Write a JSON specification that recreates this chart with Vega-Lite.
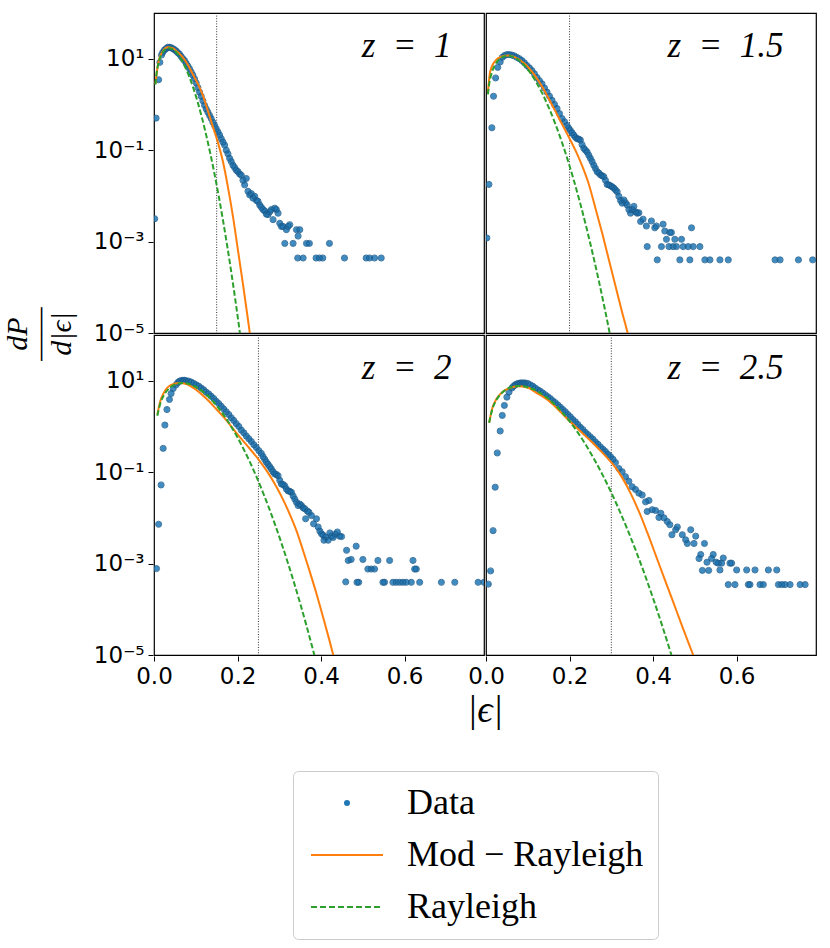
{
"$schema": "https://vega.github.io/schema/vega-lite/v6.json",
"padding": {"left": 3, "top": 12, "right": 10, "bottom": 8},
"datasets": {
"panels": [{"p":"1","r":"a","c":"a"},{"p":"1.5","r":"a","c":"b"},{"p":"2","r":"b","c":"a"},{"p":"2.5","r":"b","c":"b"}]
},
"data": {"values": [
{"p":"1","s":"L","t":"z\u2002=\u20021"},{"p":"1.5","s":"L","t":"z\u2002=\u20021.5"},{"p":"2","s":"L","t":"z\u2002=\u20022"},{"p":"2.5","s":"L","t":"z\u2002=\u20022.5"},
{"p":"1","s":"V","x":0.15},{"p":"1.5","s":"V","x":0.2},{"p":"2","s":"V","x":0.25},{"p":"2.5","s":"V","x":0.3},

{"p":"1","s":"D","x":0.0016,"y":0.00316},{"p":"1","s":"D","x":0.005,"y":0.501},{"p":"1","s":"D","x":0.011,"y":3.47},{"p":"1","s":"D","x":0.014,"y":8.32},{"p":"1","s":"D","x":0.018,"y":12.0},{"p":"1","s":"D","x":0.021,"y":13.8},{"p":"1","s":"D","x":0.025,"y":15.5},{"p":"1","s":"D","x":0.029,"y":16.6},{"p":"1","s":"D","x":0.033,"y":17.8},{"p":"1","s":"D","x":0.037,"y":17.8},{"p":"1","s":"D","x":0.041,"y":17.4},{"p":"1","s":"D","x":0.045,"y":16.6},{"p":"1","s":"D","x":0.049,"y":15.8},{"p":"1","s":"D","x":0.053,"y":14.8},{"p":"1","s":"D","x":0.057,"y":13.5},{"p":"1","s":"D","x":0.061,"y":12.6},{"p":"1","s":"D","x":0.065,"y":11.2},{"p":"1","s":"D","x":0.069,"y":10.0},{"p":"1","s":"D","x":0.073,"y":9.12},{"p":"1","s":"D","x":0.077,"y":7.94},{"p":"1","s":"D","x":0.081,"y":6.92},{"p":"1","s":"D","x":0.085,"y":6.03},{"p":"1","s":"D","x":0.089,"y":5.13},{"p":"1","s":"D","x":0.093,"y":4.37},{"p":"1","s":"D","x":0.097,"y":3.63},{"p":"1","s":"D","x":0.101,"y":2.95},{"p":"1","s":"D","x":0.105,"y":2.34},{"p":"1","s":"D","x":0.109,"y":1.86},{"p":"1","s":"D","x":0.113,"y":1.51},{"p":"1","s":"D","x":0.117,"y":1.20},{"p":"1","s":"D","x":0.121,"y":0.955},{"p":"1","s":"D","x":0.125,"y":0.794},{"p":"1","s":"D","x":0.129,"y":0.676},{"p":"1","s":"D","x":0.133,"y":0.575},{"p":"1","s":"D","x":0.137,"y":0.490},{"p":"1","s":"D","x":0.141,"y":0.407},{"p":"1","s":"D","x":0.145,"y":0.347},{"p":"1","s":"D","x":0.149,"y":0.295},{"p":"1","s":"D","x":0.153,"y":0.251},{"p":"1","s":"D","x":0.157,"y":0.214},{"p":"1","s":"D","x":0.161,"y":0.178},{"p":"1","s":"D","x":0.165,"y":0.151},{"p":"1","s":"D","x":0.169,"y":0.129},{"p":"1","s":"D","x":0.173,"y":0.100},{"p":"1","s":"D","x":0.177,"y":0.0832},{"p":"1","s":"D","x":0.181,"y":0.0661},{"p":"1","s":"D","x":0.185,"y":0.0562},{"p":"1","s":"D","x":0.189,"y":0.0468},{"p":"1","s":"D","x":0.193,"y":0.0417},{"p":"1","s":"D","x":0.197,"y":0.0363},{"p":"1","s":"D","x":0.201,"y":0.0339},{"p":"1","s":"D","x":0.205,"y":0.0302},{"p":"1","s":"D","x":0.209,"y":0.0282},{"p":"1","s":"D","x":0.213,"y":0.0219},{"p":"1","s":"D","x":0.217,"y":0.0174},{"p":"1","s":"D","x":0.221,"y":0.0240},{"p":"1","s":"D","x":0.225,"y":0.0126},{"p":"1","s":"D","x":0.229,"y":0.0105},{"p":"1","s":"D","x":0.233,"y":0.0112},{"p":"1","s":"D","x":0.237,"y":0.00891},{"p":"1","s":"D","x":0.241,"y":0.00977},{"p":"1","s":"D","x":0.245,"y":0.00794},{"p":"1","s":"D","x":0.249,"y":0.00759},{"p":"1","s":"D","x":0.253,"y":0.00631},{"p":"1","s":"D","x":0.257,"y":0.00562},{"p":"1","s":"D","x":0.261,"y":0.00501},{"p":"1","s":"D","x":0.265,"y":0.00468},{"p":"1","s":"D","x":0.269,"y":0.00398},{"p":"1","s":"D","x":0.273,"y":0.00389},{"p":"1","s":"D","x":0.277,"y":0.00447},{"p":"1","s":"D","x":0.281,"y":0.00501},{"p":"1","s":"D","x":0.285,"y":0.00302},{"p":"1","s":"D","x":0.289,"y":0.00537},{"p":"1","s":"D","x":0.293,"y":0.00501},{"p":"1","s":"D","x":0.297,"y":0.00417},{"p":"1","s":"D","x":0.301,"y":0.00251},{"p":"1","s":"D","x":0.305,"y":0.00214},{"p":"1","s":"D","x":0.309,"y":0.00214},{"p":"1","s":"D","x":0.313,"y":0.000912},{"p":"1","s":"D","x":0.317,"y":0.00182},{"p":"1","s":"D","x":0.321,"y":0.00214},{"p":"1","s":"D","x":0.325,"y":0.00234},{"p":"1","s":"D","x":0.333,"y":0.000912},{"p":"1","s":"D","x":0.341,"y":0.00182},{"p":"1","s":"D","x":0.344,"y":0.000437},{"p":"1","s":"D","x":0.345,"y":0.00132},{"p":"1","s":"D","x":0.349,"y":0.00182},{"p":"1","s":"D","x":0.357,"y":0.000437},{"p":"1","s":"D","x":0.365,"y":0.000912},{"p":"1","s":"D","x":0.372,"y":0.000912},{"p":"1","s":"D","x":0.388,"y":0.000437},{"p":"1","s":"D","x":0.396,"y":0.000437},{"p":"1","s":"D","x":0.404,"y":0.000437},{"p":"1","s":"D","x":0.42,"y":0.000912},{"p":"1","s":"D","x":0.456,"y":0.000437},{"p":"1","s":"D","x":0.508,"y":0.000437},{"p":"1","s":"D","x":0.516,"y":0.000437},{"p":"1","s":"D","x":0.528,"y":0.000437},{"p":"1","s":"D","x":0.544,"y":0.000437},

{"p":"1.5","s":"D","x":0.002,"y":0.0012},{"p":"1.5","s":"D","x":0.007,"y":0.0178},{"p":"1.5","s":"D","x":0.014,"y":0.309},{"p":"1.5","s":"D","x":0.018,"y":1.51},{"p":"1.5","s":"D","x":0.023,"y":3.80},{"p":"1.5","s":"D","x":0.028,"y":6.46},{"p":"1.5","s":"D","x":0.034,"y":8.51},{"p":"1.5","s":"D","x":0.039,"y":10.7},{"p":"1.5","s":"D","x":0.044,"y":11.7},{"p":"1.5","s":"D","x":0.050,"y":12.3},{"p":"1.5","s":"D","x":0.056,"y":12.3},{"p":"1.5","s":"D","x":0.062,"y":12.0},{"p":"1.5","s":"D","x":0.068,"y":11.5},{"p":"1.5","s":"D","x":0.074,"y":10.7},{"p":"1.5","s":"D","x":0.080,"y":10.0},{"p":"1.5","s":"D","x":0.086,"y":9.12},{"p":"1.5","s":"D","x":0.092,"y":8.13},{"p":"1.5","s":"D","x":0.098,"y":7.08},{"p":"1.5","s":"D","x":0.104,"y":6.31},{"p":"1.5","s":"D","x":0.110,"y":5.50},{"p":"1.5","s":"D","x":0.116,"y":4.68},{"p":"1.5","s":"D","x":0.122,"y":3.89},{"p":"1.5","s":"D","x":0.128,"y":3.31},{"p":"1.5","s":"D","x":0.134,"y":2.82},{"p":"1.5","s":"D","x":0.140,"y":2.29},{"p":"1.5","s":"D","x":0.146,"y":1.86},{"p":"1.5","s":"D","x":0.152,"y":1.51},{"p":"1.5","s":"D","x":0.158,"y":1.23},{"p":"1.5","s":"D","x":0.164,"y":1.00},{"p":"1.5","s":"D","x":0.170,"y":0.813},{"p":"1.5","s":"D","x":0.176,"y":0.631},{"p":"1.5","s":"D","x":0.182,"y":0.490},{"p":"1.5","s":"D","x":0.188,"y":0.417},{"p":"1.5","s":"D","x":0.194,"y":0.347},{"p":"1.5","s":"D","x":0.198,"y":0.302},{"p":"1.5","s":"D","x":0.202,"y":0.269},{"p":"1.5","s":"D","x":0.206,"y":0.240},{"p":"1.5","s":"D","x":0.210,"y":0.214},{"p":"1.5","s":"D","x":0.214,"y":0.191},{"p":"1.5","s":"D","x":0.218,"y":0.178},{"p":"1.5","s":"D","x":0.222,"y":0.174},{"p":"1.5","s":"D","x":0.226,"y":0.166},{"p":"1.5","s":"D","x":0.230,"y":0.132},{"p":"1.5","s":"D","x":0.234,"y":0.110},{"p":"1.5","s":"D","x":0.238,"y":0.100},{"p":"1.5","s":"D","x":0.242,"y":0.0912},{"p":"1.5","s":"D","x":0.246,"y":0.0776},{"p":"1.5","s":"D","x":0.250,"y":0.0661},{"p":"1.5","s":"D","x":0.254,"y":0.0562},{"p":"1.5","s":"D","x":0.258,"y":0.0468},{"p":"1.5","s":"D","x":0.262,"y":0.0398},{"p":"1.5","s":"D","x":0.266,"y":0.0339},{"p":"1.5","s":"D","x":0.270,"y":0.0316},{"p":"1.5","s":"D","x":0.274,"y":0.0288},{"p":"1.5","s":"D","x":0.278,"y":0.0275},{"p":"1.5","s":"D","x":0.282,"y":0.0263},{"p":"1.5","s":"D","x":0.286,"y":0.0219},{"p":"1.5","s":"D","x":0.290,"y":0.0178},{"p":"1.5","s":"D","x":0.294,"y":0.0174},{"p":"1.5","s":"D","x":0.298,"y":0.0166},{"p":"1.5","s":"D","x":0.302,"y":0.0158},{"p":"1.5","s":"D","x":0.306,"y":0.0148},{"p":"1.5","s":"D","x":0.310,"y":0.0135},{"p":"1.5","s":"D","x":0.314,"y":0.0123},{"p":"1.5","s":"D","x":0.318,"y":0.00977},{"p":"1.5","s":"D","x":0.322,"y":0.00794},{"p":"1.5","s":"D","x":0.326,"y":0.00692},{"p":"1.5","s":"D","x":0.330,"y":0.00813},{"p":"1.5","s":"D","x":0.334,"y":0.00708},{"p":"1.5","s":"D","x":0.338,"y":0.00631},{"p":"1.5","s":"D","x":0.342,"y":0.00501},{"p":"1.5","s":"D","x":0.346,"y":0.00417},{"p":"1.5","s":"D","x":0.350,"y":0.00501},{"p":"1.5","s":"D","x":0.354,"y":0.00589},{"p":"1.5","s":"D","x":0.358,"y":0.00447},{"p":"1.5","s":"D","x":0.362,"y":0.00417},{"p":"1.5","s":"D","x":0.366,"y":0.00427},{"p":"1.5","s":"D","x":0.370,"y":0.00275},{"p":"1.5","s":"D","x":0.376,"y":0.00309},{"p":"1.5","s":"D","x":0.384,"y":0.00219},{"p":"1.5","s":"D","x":0.396,"y":0.00282},{"p":"1.5","s":"D","x":0.404,"y":0.00200},{"p":"1.5","s":"D","x":0.408,"y":0.00219},{"p":"1.5","s":"D","x":0.424,"y":0.00240},{"p":"1.5","s":"D","x":0.428,"y":0.00170},{"p":"1.5","s":"D","x":0.432,"y":0.00112},{"p":"1.5","s":"D","x":0.440,"y":0.00158},{"p":"1.5","s":"D","x":0.444,"y":0.00158},{"p":"1.5","s":"D","x":0.452,"y":0.00112},{"p":"1.5","s":"D","x":0.468,"y":0.00112},{"p":"1.5","s":"D","x":0.492,"y":0.00200},{"p":"1.5","s":"D","x":0.386,"y":0.000776},{"p":"1.5","s":"D","x":0.420,"y":0.000776},{"p":"1.5","s":"D","x":0.438,"y":0.000776},{"p":"1.5","s":"D","x":0.448,"y":0.000776},{"p":"1.5","s":"D","x":0.456,"y":0.000776},{"p":"1.5","s":"D","x":0.472,"y":0.000776},{"p":"1.5","s":"D","x":0.484,"y":0.000776},{"p":"1.5","s":"D","x":0.496,"y":0.000776},{"p":"1.5","s":"D","x":0.512,"y":0.000776},{"p":"1.5","s":"D","x":0.410,"y":0.000398},{"p":"1.5","s":"D","x":0.464,"y":0.000398},{"p":"1.5","s":"D","x":0.488,"y":0.000398},{"p":"1.5","s":"D","x":0.524,"y":0.000398},{"p":"1.5","s":"D","x":0.536,"y":0.000398},{"p":"1.5","s":"D","x":0.560,"y":0.000398},{"p":"1.5","s":"D","x":0.580,"y":0.000398},{"p":"1.5","s":"D","x":0.692,"y":0.000398},{"p":"1.5","s":"D","x":0.704,"y":0.000398},{"p":"1.5","s":"D","x":0.748,"y":0.000398},{"p":"1.5","s":"D","x":0.782,"y":0.000398},

{"p":"2","s":"D","x":0.006,"y":0.000776},{"p":"2","s":"D","x":0.011,"y":0.00724},{"p":"2","s":"D","x":0.017,"y":0.0525},{"p":"2","s":"D","x":0.022,"y":0.331},{"p":"2","s":"D","x":0.026,"y":1.07},{"p":"2","s":"D","x":0.031,"y":2.34},{"p":"2","s":"D","x":0.037,"y":3.89},{"p":"2","s":"D","x":0.041,"y":5.25},{"p":"2","s":"D","x":0.046,"y":6.76},{"p":"2","s":"D","x":0.053,"y":8.13},{"p":"2","s":"D","x":0.057,"y":9.12},{"p":"2","s":"D","x":0.061,"y":9.77},{"p":"2","s":"D","x":0.065,"y":10.0},{"p":"2","s":"D","x":0.069,"y":10.2},{"p":"2","s":"D","x":0.073,"y":10.2},{"p":"2","s":"D","x":0.077,"y":10.0},{"p":"2","s":"D","x":0.083,"y":9.77},{"p":"2","s":"D","x":0.089,"y":9.33},{"p":"2","s":"D","x":0.095,"y":8.71},{"p":"2","s":"D","x":0.101,"y":8.13},{"p":"2","s":"D","x":0.107,"y":7.59},{"p":"2","s":"D","x":0.113,"y":6.92},{"p":"2","s":"D","x":0.119,"y":6.31},{"p":"2","s":"D","x":0.125,"y":5.62},{"p":"2","s":"D","x":0.131,"y":5.13},{"p":"2","s":"D","x":0.137,"y":4.57},{"p":"2","s":"D","x":0.143,"y":4.07},{"p":"2","s":"D","x":0.149,"y":3.55},{"p":"2","s":"D","x":0.155,"y":3.16},{"p":"2","s":"D","x":0.161,"y":2.75},{"p":"2","s":"D","x":0.167,"y":2.40},{"p":"2","s":"D","x":0.173,"y":2.09},{"p":"2","s":"D","x":0.179,"y":1.82},{"p":"2","s":"D","x":0.185,"y":1.55},{"p":"2","s":"D","x":0.191,"y":1.35},{"p":"2","s":"D","x":0.197,"y":1.15},{"p":"2","s":"D","x":0.203,"y":1.00},{"p":"2","s":"D","x":0.209,"y":0.832},{"p":"2","s":"D","x":0.215,"y":0.724},{"p":"2","s":"D","x":0.221,"y":0.617},{"p":"2","s":"D","x":0.227,"y":0.537},{"p":"2","s":"D","x":0.233,"y":0.468},{"p":"2","s":"D","x":0.239,"y":0.398},{"p":"2","s":"D","x":0.245,"y":0.347},{"p":"2","s":"D","x":0.251,"y":0.295},{"p":"2","s":"D","x":0.257,"y":0.257},{"p":"2","s":"D","x":0.261,"y":0.219},{"p":"2","s":"D","x":0.265,"y":0.191},{"p":"2","s":"D","x":0.269,"y":0.166},{"p":"2","s":"D","x":0.273,"y":0.148},{"p":"2","s":"D","x":0.277,"y":0.132},{"p":"2","s":"D","x":0.281,"y":0.117},{"p":"2","s":"D","x":0.285,"y":0.102},{"p":"2","s":"D","x":0.289,"y":0.0912},{"p":"2","s":"D","x":0.293,"y":0.0891},{"p":"2","s":"D","x":0.297,"y":0.0832},{"p":"2","s":"D","x":0.301,"y":0.0661},{"p":"2","s":"D","x":0.305,"y":0.0550},{"p":"2","s":"D","x":0.309,"y":0.0537},{"p":"2","s":"D","x":0.313,"y":0.0501},{"p":"2","s":"D","x":0.317,"y":0.0427},{"p":"2","s":"D","x":0.321,"y":0.0389},{"p":"2","s":"D","x":0.325,"y":0.0380},{"p":"2","s":"D","x":0.329,"y":0.0363},{"p":"2","s":"D","x":0.333,"y":0.0302},{"p":"2","s":"D","x":0.337,"y":0.0257},{"p":"2","s":"D","x":0.341,"y":0.0219},{"p":"2","s":"D","x":0.345,"y":0.0186},{"p":"2","s":"D","x":0.349,"y":0.0200},{"p":"2","s":"D","x":0.353,"y":0.0186},{"p":"2","s":"D","x":0.357,"y":0.0166},{"p":"2","s":"D","x":0.361,"y":0.0158},{"p":"2","s":"D","x":0.363,"y":0.00955},{"p":"2","s":"D","x":0.367,"y":0.0141},{"p":"2","s":"D","x":0.371,"y":0.0132},{"p":"2","s":"D","x":0.377,"y":0.0112},{"p":"2","s":"D","x":0.382,"y":0.00741},{"p":"2","s":"D","x":0.389,"y":0.00955},{"p":"2","s":"D","x":0.393,"y":0.00631},{"p":"2","s":"D","x":0.397,"y":0.00513},{"p":"2","s":"D","x":0.401,"y":0.00447},{"p":"2","s":"D","x":0.405,"y":0.00417},{"p":"2","s":"D","x":0.407,"y":0.00324},{"p":"2","s":"D","x":0.411,"y":0.00380},{"p":"2","s":"D","x":0.417,"y":0.00324},{"p":"2","s":"D","x":0.421,"y":0.00468},{"p":"2","s":"D","x":0.425,"y":0.00398},{"p":"2","s":"D","x":0.429,"y":0.00372},{"p":"2","s":"D","x":0.434,"y":0.00437},{"p":"2","s":"D","x":0.439,"y":0.00490},{"p":"2","s":"D","x":0.444,"y":0.00398},{"p":"2","s":"D","x":0.449,"y":0.00389},{"p":"2","s":"D","x":0.461,"y":0.00195},{"p":"2","s":"D","x":0.465,"y":0.00117},{"p":"2","s":"D","x":0.459,"y":0.000398},{"p":"2","s":"D","x":0.472,"y":0.00123},{"p":"2","s":"D","x":0.484,"y":0.00240},{"p":"2","s":"D","x":0.500,"y":0.00123},{"p":"2","s":"D","x":0.512,"y":0.000759},{"p":"2","s":"D","x":0.520,"y":0.000759},{"p":"2","s":"D","x":0.528,"y":0.000759},{"p":"2","s":"D","x":0.536,"y":0.00117},{"p":"2","s":"D","x":0.564,"y":0.00117},{"p":"2","s":"D","x":0.620,"y":0.00117},{"p":"2","s":"D","x":0.624,"y":0.000759},{"p":"2","s":"D","x":0.628,"y":0.000759},{"p":"2","s":"D","x":0.486,"y":0.000389},{"p":"2","s":"D","x":0.490,"y":0.000389},{"p":"2","s":"D","x":0.548,"y":0.000389},{"p":"2","s":"D","x":0.552,"y":0.000389},{"p":"2","s":"D","x":0.572,"y":0.000389},{"p":"2","s":"D","x":0.580,"y":0.000389},{"p":"2","s":"D","x":0.588,"y":0.000389},{"p":"2","s":"D","x":0.596,"y":0.000389},{"p":"2","s":"D","x":0.604,"y":0.000389},{"p":"2","s":"D","x":0.616,"y":0.000389},{"p":"2","s":"D","x":0.636,"y":0.000389},{"p":"2","s":"D","x":0.688,"y":0.000389},{"p":"2","s":"D","x":0.720,"y":0.000389},{"p":"2","s":"D","x":0.776,"y":0.000389},{"p":"2","s":"D","x":0.79,"y":0.000389},

{"p":"2.5","s":"D","x":0.0056,"y":0.000355},{"p":"2.5","s":"D","x":0.011,"y":0.000692},{"p":"2.5","s":"D","x":0.017,"y":0.00525},{"p":"2.5","s":"D","x":0.022,"y":0.0468},{"p":"2.5","s":"D","x":0.027,"y":0.263},{"p":"2.5","s":"D","x":0.034,"y":0.794},{"p":"2.5","s":"D","x":0.039,"y":1.74},{"p":"2.5","s":"D","x":0.044,"y":2.88},{"p":"2.5","s":"D","x":0.050,"y":4.37},{"p":"2.5","s":"D","x":0.055,"y":5.62},{"p":"2.5","s":"D","x":0.062,"y":6.92},{"p":"2.5","s":"D","x":0.066,"y":7.59},{"p":"2.5","s":"D","x":0.070,"y":8.13},{"p":"2.5","s":"D","x":0.074,"y":8.51},{"p":"2.5","s":"D","x":0.078,"y":8.71},{"p":"2.5","s":"D","x":0.082,"y":8.91},{"p":"2.5","s":"D","x":0.086,"y":8.91},{"p":"2.5","s":"D","x":0.090,"y":8.91},{"p":"2.5","s":"D","x":0.094,"y":8.91},{"p":"2.5","s":"D","x":0.100,"y":8.71},{"p":"2.5","s":"D","x":0.106,"y":8.13},{"p":"2.5","s":"D","x":0.112,"y":7.59},{"p":"2.5","s":"D","x":0.118,"y":6.92},{"p":"2.5","s":"D","x":0.124,"y":6.31},{"p":"2.5","s":"D","x":0.130,"y":5.89},{"p":"2.5","s":"D","x":0.136,"y":5.37},{"p":"2.5","s":"D","x":0.142,"y":4.90},{"p":"2.5","s":"D","x":0.148,"y":4.47},{"p":"2.5","s":"D","x":0.154,"y":4.07},{"p":"2.5","s":"D","x":0.160,"y":3.63},{"p":"2.5","s":"D","x":0.166,"y":3.31},{"p":"2.5","s":"D","x":0.172,"y":2.95},{"p":"2.5","s":"D","x":0.178,"y":2.63},{"p":"2.5","s":"D","x":0.184,"y":2.34},{"p":"2.5","s":"D","x":0.190,"y":2.09},{"p":"2.5","s":"D","x":0.196,"y":1.82},{"p":"2.5","s":"D","x":0.202,"y":1.62},{"p":"2.5","s":"D","x":0.208,"y":1.41},{"p":"2.5","s":"D","x":0.214,"y":1.26},{"p":"2.5","s":"D","x":0.220,"y":1.10},{"p":"2.5","s":"D","x":0.226,"y":0.955},{"p":"2.5","s":"D","x":0.232,"y":0.851},{"p":"2.5","s":"D","x":0.238,"y":0.741},{"p":"2.5","s":"D","x":0.244,"y":0.661},{"p":"2.5","s":"D","x":0.250,"y":0.589},{"p":"2.5","s":"D","x":0.256,"y":0.525},{"p":"2.5","s":"D","x":0.262,"y":0.457},{"p":"2.5","s":"D","x":0.268,"y":0.407},{"p":"2.5","s":"D","x":0.274,"y":0.355},{"p":"2.5","s":"D","x":0.280,"y":0.316},{"p":"2.5","s":"D","x":0.286,"y":0.282},{"p":"2.5","s":"D","x":0.292,"y":0.245},{"p":"2.5","s":"D","x":0.298,"y":0.219},{"p":"2.5","s":"D","x":0.304,"y":0.191},{"p":"2.5","s":"D","x":0.310,"y":0.162},{"p":"2.5","s":"D","x":0.318,"y":0.120},{"p":"2.5","s":"D","x":0.326,"y":0.102},{"p":"2.5","s":"D","x":0.334,"y":0.0794},{"p":"2.5","s":"D","x":0.342,"y":0.0631},{"p":"2.5","s":"D","x":0.350,"y":0.0479},{"p":"2.5","s":"D","x":0.358,"y":0.0417},{"p":"2.5","s":"D","x":0.366,"y":0.0347},{"p":"2.5","s":"D","x":0.374,"y":0.0316},{"p":"2.5","s":"D","x":0.382,"y":0.0224},{"p":"2.5","s":"D","x":0.386,"y":0.0138},{"p":"2.5","s":"D","x":0.390,"y":0.0240},{"p":"2.5","s":"D","x":0.398,"y":0.0151},{"p":"2.5","s":"D","x":0.406,"y":0.0145},{"p":"2.5","s":"D","x":0.414,"y":0.0102},{"p":"2.5","s":"D","x":0.4185,"y":0.0126},{"p":"2.5","s":"D","x":0.426,"y":0.0100},{"p":"2.5","s":"D","x":0.434,"y":0.00832},{"p":"2.5","s":"D","x":0.440,"y":0.00708},{"p":"2.5","s":"D","x":0.445,"y":0.00427},{"p":"2.5","s":"D","x":0.454,"y":0.00550},{"p":"2.5","s":"D","x":0.458,"y":0.00631},{"p":"2.5","s":"D","x":0.470,"y":0.00427},{"p":"2.5","s":"D","x":0.478,"y":0.00331},{"p":"2.5","s":"D","x":0.482,"y":0.00275},{"p":"2.5","s":"D","x":0.490,"y":0.00550},{"p":"2.5","s":"D","x":0.498,"y":0.00275},{"p":"2.5","s":"D","x":0.502,"y":0.00398},{"p":"2.5","s":"D","x":0.510,"y":0.00129},{"p":"2.5","s":"D","x":0.514,"y":0.00158},{"p":"2.5","s":"D","x":0.518,"y":0.000708},{"p":"2.5","s":"D","x":0.523,"y":0.00275},{"p":"2.5","s":"D","x":0.529,"y":0.00107},{"p":"2.5","s":"D","x":0.533,"y":0.000708},{"p":"2.5","s":"D","x":0.540,"y":0.00129},{"p":"2.5","s":"D","x":0.544,"y":0.00158},{"p":"2.5","s":"D","x":0.551,"y":0.00107},{"p":"2.5","s":"D","x":0.556,"y":0.00102},{"p":"2.5","s":"D","x":0.564,"y":0.00102},{"p":"2.5","s":"D","x":0.568,"y":0.00132},{"p":"2.5","s":"D","x":0.584,"y":0.00102},{"p":"2.5","s":"D","x":0.588,"y":0.00102},{"p":"2.5","s":"D","x":0.560,"y":0.000724},{"p":"2.5","s":"D","x":0.600,"y":0.000724},{"p":"2.5","s":"D","x":0.624,"y":0.000724},{"p":"2.5","s":"D","x":0.644,"y":0.000724},{"p":"2.5","s":"D","x":0.676,"y":0.000724},{"p":"2.5","s":"D","x":0.696,"y":0.000724},{"p":"2.5","s":"D","x":0.580,"y":0.000347},{"p":"2.5","s":"D","x":0.596,"y":0.000347},{"p":"2.5","s":"D","x":0.628,"y":0.000347},{"p":"2.5","s":"D","x":0.632,"y":0.000347},{"p":"2.5","s":"D","x":0.656,"y":0.000347},{"p":"2.5","s":"D","x":0.664,"y":0.000347},{"p":"2.5","s":"D","x":0.700,"y":0.000347},{"p":"2.5","s":"D","x":0.708,"y":0.000347},{"p":"2.5","s":"D","x":0.716,"y":0.000347},{"p":"2.5","s":"D","x":0.728,"y":0.000347},{"p":"2.5","s":"D","x":0.752,"y":0.000347},{"p":"2.5","s":"D","x":0.764,"y":0.000347},

{"p":"1","s":"M","x":0.0035,"y":2.82},{"p":"1","s":"M","x":0.01,"y":7.94},{"p":"1","s":"M","x":0.02,"y":14.1},{"p":"1","s":"M","x":0.033,"y":17.8},{"p":"1","s":"M","x":0.045,"y":17.0},{"p":"1","s":"M","x":0.057,"y":13.8},{"p":"1","s":"M","x":0.069,"y":10.7},{"p":"1","s":"M","x":0.081,"y":7.41},{"p":"1","s":"M","x":0.093,"y":4.57},{"p":"1","s":"M","x":0.105,"y":2.82},{"p":"1","s":"M","x":0.117,"y":1.58},{"p":"1","s":"M","x":0.129,"y":0.724},{"p":"1","s":"M","x":0.141,"y":0.324},{"p":"1","s":"M","x":0.153,"y":0.148},{"p":"1","s":"M","x":0.165,"y":0.0562},{"p":"1","s":"M","x":0.177,"y":0.0155},{"p":"1","s":"M","x":0.189,"y":0.00355},{"p":"1","s":"M","x":0.201,"y":0.000646},{"p":"1","s":"M","x":0.213,"y":0.000117},{"p":"1","s":"M","x":0.225,"y":0.0000195},{"p":"1","s":"M","x":0.233,"y":0.0000056},
{"p":"1.5","s":"M","x":0.0045,"y":1.78},{"p":"1.5","s":"M","x":0.01,"y":5.25},{"p":"1.5","s":"M","x":0.02,"y":8.51},{"p":"1.5","s":"M","x":0.035,"y":10.96},{"p":"1.5","s":"M","x":0.054,"y":11.75},{"p":"1.5","s":"M","x":0.07,"y":10.7},{"p":"1.5","s":"M","x":0.094,"y":7.59},{"p":"1.5","s":"M","x":0.118,"y":4.17},{"p":"1.5","s":"M","x":0.135,"y":2.40},{"p":"1.5","s":"M","x":0.15,"y":1.35},{"p":"1.5","s":"M","x":0.165,"y":0.74},{"p":"1.5","s":"M","x":0.18,"y":0.40},{"p":"1.5","s":"M","x":0.19,"y":0.27},{"p":"1.5","s":"M","x":0.2,"y":0.18},{"p":"1.5","s":"M","x":0.215,"y":0.095},{"p":"1.5","s":"M","x":0.23,"y":0.046},{"p":"1.5","s":"M","x":0.246,"y":0.0182},{"p":"1.5","s":"M","x":0.262,"y":0.00537},{"p":"1.5","s":"M","x":0.278,"y":0.00155},{"p":"1.5","s":"M","x":0.294,"y":0.000407},{"p":"1.5","s":"M","x":0.31,"y":0.000107},{"p":"1.5","s":"M","x":0.326,"y":0.0000282},{"p":"1.5","s":"M","x":0.339,"y":0.0000100},{"p":"1.5","s":"M","x":0.345,"y":0.0000056},
{"p":"2","s":"M","x":0.008,"y":1.82},{"p":"2","s":"M","x":0.015,"y":3.55},{"p":"2","s":"M","x":0.025,"y":5.75},{"p":"2","s":"M","x":0.041,"y":8.13},{"p":"2","s":"M","x":0.061,"y":8.91},{"p":"2","s":"M","x":0.077,"y":8.51},{"p":"2","s":"M","x":0.101,"y":6.31},{"p":"2","s":"M","x":0.125,"y":4.07},{"p":"2","s":"M","x":0.149,"y":2.40},{"p":"2","s":"M","x":0.173,"y":1.38},{"p":"2","s":"M","x":0.197,"y":0.724},{"p":"2","s":"M","x":0.221,"y":0.398},{"p":"2","s":"M","x":0.25,"y":0.191},{"p":"2","s":"M","x":0.277,"y":0.0851},{"p":"2","s":"M","x":0.293,"y":0.0479},{"p":"2","s":"M","x":0.309,"y":0.0251},{"p":"2","s":"M","x":0.325,"y":0.0120},{"p":"2","s":"M","x":0.341,"y":0.00525},{"p":"2","s":"M","x":0.357,"y":0.00191},{"p":"2","s":"M","x":0.373,"y":0.000661},{"p":"2","s":"M","x":0.389,"y":0.000219},{"p":"2","s":"M","x":0.405,"y":0.0000661},{"p":"2","s":"M","x":0.42,"y":0.0000209},{"p":"2","s":"M","x":0.43,"y":0.0000093},{"p":"2","s":"M","x":0.44,"y":0.0000042},
{"p":"2.5","s":"M","x":0.0075,"y":1.20},{"p":"2.5","s":"M","x":0.015,"y":2.51},{"p":"2.5","s":"M","x":0.025,"y":3.98},{"p":"2.5","s":"M","x":0.04,"y":5.75},{"p":"2.5","s":"M","x":0.06,"y":7.08},{"p":"2.5","s":"M","x":0.078,"y":7.59},{"p":"2.5","s":"M","x":0.095,"y":7.24},{"p":"2.5","s":"M","x":0.1025,"y":6.92},{"p":"2.5","s":"M","x":0.12,"y":5.50},{"p":"2.5","s":"M","x":0.135,"y":4.57},{"p":"2.5","s":"M","x":0.15,"y":3.67},{"p":"2.5","s":"M","x":0.165,"y":2.75},{"p":"2.5","s":"M","x":0.18,"y":2.00},{"p":"2.5","s":"M","x":0.1985,"y":1.35},{"p":"2.5","s":"M","x":0.215,"y":0.977},{"p":"2.5","s":"M","x":0.23,"y":0.724},{"p":"2.5","s":"M","x":0.2465,"y":0.525},{"p":"2.5","s":"M","x":0.26,"y":0.398},{"p":"2.5","s":"M","x":0.275,"y":0.288},{"p":"2.5","s":"M","x":0.2945,"y":0.186},{"p":"2.5","s":"M","x":0.31,"y":0.126},{"p":"2.5","s":"M","x":0.326,"y":0.0759},{"p":"2.5","s":"M","x":0.346,"y":0.0347},{"p":"2.5","s":"M","x":0.366,"y":0.0138},{"p":"2.5","s":"M","x":0.386,"y":0.00479},{"p":"2.5","s":"M","x":0.4065,"y":0.00151},{"p":"2.5","s":"M","x":0.426,"y":0.000501},{"p":"2.5","s":"M","x":0.4465,"y":0.000158},{"p":"2.5","s":"M","x":0.47,"y":0.0000417},{"p":"2.5","s":"M","x":0.485,"y":0.0000182},{"p":"2.5","s":"M","x":0.497,"y":0.0000095},{"p":"2.5","s":"M","x":0.505,"y":0.0000060},

{"p":"1","s":"R","x":0.0035,"y":2.73},{"p":"1","s":"R","x":0.006,"y":4.64},{"p":"1","s":"R","x":0.01,"y":7.55},{"p":"1","s":"R","x":0.015,"y":10.8},{"p":"1","s":"R","x":0.02,"y":13.4},{"p":"1","s":"R","x":0.025,"y":15.4},{"p":"1","s":"R","x":0.03,"y":16.5},{"p":"1","s":"R","x":0.036,"y":17.0},{"p":"1","s":"R","x":0.045,"y":16.0},{"p":"1","s":"R","x":0.055,"y":13.2},{"p":"1","s":"R","x":0.065,"y":9.72},{"p":"1","s":"R","x":0.075,"y":6.48},{"p":"1","s":"R","x":0.085,"y":3.92},{"p":"1","s":"R","x":0.095,"y":2.16},{"p":"1","s":"R","x":0.105,"y":1.09},{"p":"1","s":"R","x":0.115,"y":0.502},{"p":"1","s":"R","x":0.125,"y":0.213},{"p":"1","s":"R","x":0.135,"y":0.083},{"p":"1","s":"R","x":0.145,"y":0.0297},{"p":"1","s":"R","x":0.155,"y":0.0098},{"p":"1","s":"R","x":0.165,"y":0.00297},{"p":"1","s":"R","x":0.175,"y":0.00083},{"p":"1","s":"R","x":0.185,"y":0.000214},{"p":"1","s":"R","x":0.195,"y":0.0000507},{"p":"1","s":"R","x":0.205,"y":0.0000111},{"p":"1","s":"R","x":0.21,"y":0.0000050},
{"p":"1.5","s":"R","x":0.0045,"y":1.66},{"p":"1.5","s":"R","x":0.008,"y":2.92},{"p":"1.5","s":"R","x":0.015,"y":5.32},{"p":"1.5","s":"R","x":0.025,"y":8.24},{"p":"1.5","s":"R","x":0.035,"y":10.3},{"p":"1.5","s":"R","x":0.045,"y":11.4},{"p":"1.5","s":"R","x":0.052,"y":11.7},{"p":"1.5","s":"R","x":0.06,"y":11.4},{"p":"1.5","s":"R","x":0.075,"y":9.80},{"p":"1.5","s":"R","x":0.09,"y":7.44},{"p":"1.5","s":"R","x":0.105,"y":5.06},{"p":"1.5","s":"R","x":0.12,"y":3.09},{"p":"1.5","s":"R","x":0.135,"y":1.72},{"p":"1.5","s":"R","x":0.15,"y":0.865},{"p":"1.5","s":"R","x":0.165,"y":0.397},{"p":"1.5","s":"R","x":0.18,"y":0.166},{"p":"1.5","s":"R","x":0.195,"y":0.0637},{"p":"1.5","s":"R","x":0.21,"y":0.0223},{"p":"1.5","s":"R","x":0.225,"y":0.00716},{"p":"1.5","s":"R","x":0.24,"y":0.0021},{"p":"1.5","s":"R","x":0.255,"y":0.000565},{"p":"1.5","s":"R","x":0.27,"y":0.00014},{"p":"1.5","s":"R","x":0.285,"y":0.0000316},{"p":"1.5","s":"R","x":0.3,"y":0.0000066},
{"p":"2","s":"R","x":0.008,"y":1.72},{"p":"2","s":"R","x":0.015,"y":3.16},{"p":"2","s":"R","x":0.025,"y":5.06},{"p":"2","s":"R","x":0.035,"y":6.63},{"p":"2","s":"R","x":0.045,"y":7.82},{"p":"2","s":"R","x":0.055,"y":8.57},{"p":"2","s":"R","x":0.068,"y":8.92},{"p":"2","s":"R","x":0.08,"y":8.65},{"p":"2","s":"R","x":0.095,"y":7.74},{"p":"2","s":"R","x":0.11,"y":6.43},{"p":"2","s":"R","x":0.125,"y":4.99},{"p":"2","s":"R","x":0.14,"y":3.64},{"p":"2","s":"R","x":0.155,"y":2.49},{"p":"2","s":"R","x":0.17,"y":1.62},{"p":"2","s":"R","x":0.185,"y":0.989},{"p":"2","s":"R","x":0.2,"y":0.573},{"p":"2","s":"R","x":0.215,"y":0.314},{"p":"2","s":"R","x":0.23,"y":0.163},{"p":"2","s":"R","x":0.245,"y":0.0804},{"p":"2","s":"R","x":0.26,"y":0.0376},{"p":"2","s":"R","x":0.275,"y":0.0167},{"p":"2","s":"R","x":0.29,"y":0.00705},{"p":"2","s":"R","x":0.305,"y":0.00282},{"p":"2","s":"R","x":0.32,"y":0.00107},{"p":"2","s":"R","x":0.335,"y":0.000389},{"p":"2","s":"R","x":0.35,"y":0.000134},{"p":"2","s":"R","x":0.365,"y":0.0000438},{"p":"2","s":"R","x":0.38,"y":0.0000136},{"p":"2","s":"R","x":0.39,"y":0.0000061},
{"p":"2.5","s":"R","x":0.0075,"y":1.20},{"p":"2.5","s":"R","x":0.015,"y":2.36},{"p":"2.5","s":"R","x":0.025,"y":3.81},{"p":"2.5","s":"R","x":0.035,"y":5.08},{"p":"2.5","s":"R","x":0.045,"y":6.14},{"p":"2.5","s":"R","x":0.055,"y":6.92},{"p":"2.5","s":"R","x":0.065,"y":7.43},{"p":"2.5","s":"R","x":0.079,"y":7.69},{"p":"2.5","s":"R","x":0.095,"y":7.38},{"p":"2.5","s":"R","x":0.11,"y":6.68},{"p":"2.5","s":"R","x":0.125,"y":5.73},{"p":"2.5","s":"R","x":0.14,"y":4.67},{"p":"2.5","s":"R","x":0.155,"y":3.62},{"p":"2.5","s":"R","x":0.17,"y":2.69},{"p":"2.5","s":"R","x":0.185,"y":1.91},{"p":"2.5","s":"R","x":0.2,"y":1.30},{"p":"2.5","s":"R","x":0.22,"y":0.730},{"p":"2.5","s":"R","x":0.24,"y":0.381},{"p":"2.5","s":"R","x":0.26,"y":0.185},{"p":"2.5","s":"R","x":0.28,"y":0.084},{"p":"2.5","s":"R","x":0.3,"y":0.0356},{"p":"2.5","s":"R","x":0.32,"y":0.0140},{"p":"2.5","s":"R","x":0.34,"y":0.00518},{"p":"2.5","s":"R","x":0.36,"y":0.00179},{"p":"2.5","s":"R","x":0.38,"y":0.000577},{"p":"2.5","s":"R","x":0.4,"y":0.000174},{"p":"2.5","s":"R","x":0.42,"y":0.0000491},{"p":"2.5","s":"R","x":0.44,"y":0.0000130},{"p":"2.5","s":"R","x":0.455,"y":0.0000046}
]},
"transform": [{"lookup": "p", "from": {"data": {"name": "panels"}, "key": "p", "fields": ["r", "c"]}}],
"facet": {
  "row": {"field": "r", "type": "nominal", "title": ["dP", "——", "d|ϵ|"],
    "header": {"labels": false, "labelPadding": 0, "titleFont": "Liberation Serif", "titleFontSize": 30, "titleFontStyle": "italic", "titleFontWeight": "normal", "titleColor": "black", "titleLineHeight": 22, "titlePadding": 6}},
  "column": {"field": "c", "type": "nominal", "title": "|ϵ|",
    "header": {"labels": false, "labelPadding": 0, "titleOrient": "bottom", "titleFont": "Liberation Serif", "titleFontSize": 38, "titleFontStyle": "italic", "titleFontWeight": "normal", "titleColor": "black", "titlePadding": -6}}
},
"spacing": {"row": 0, "column": 0},
"spec": {
  "width": 330,
  "height": 320,
  "layer": [
    {"transform": [{"filter": "datum.s === 'V'"}],
     "mark": {"type": "rule", "strokeDash": [1, 1.6], "strokeWidth": 0.8, "color": "black"},
     "encoding": {"x": {"field": "x", "type": "quantitative"}}},
    {"transform": [{"filter": "datum.s === 'D'"}],
     "mark": {"type": "point", "filled": true, "fillOpacity": 0.85, "strokeWidth": 0.8, "clip": true},
     "encoding": {
       "x": {"field": "x", "type": "quantitative", "title": null,
         "scale": {"domain": [0, 0.79], "nice": false, "zero": false},
         "axis": {"values": [0, 0.2, 0.4, 0.6], "format": ".1f", "labelFlush": false, "labelOverlap": false}},
       "y": {"field": "y", "type": "quantitative", "title": null,
         "scale": {"type": "log", "domain": [0.00001, 100], "nice": false},
         "axis": {"values": [0.00001, 0.001, 0.1, 10], "labelFlush": false, "labelOverlap": false,
           "labelExpr": "datum.value > 1 ? '10¹' : datum.value > 0.01 ? '10⁻¹' : datum.value > 0.0001 ? '10⁻³' : '10⁻⁵'"}},
       "color": {"field": "s", "type": "nominal",
         "scale": {"domain": ["D", "M", "R"], "range": ["#1f77b4", "#ff7f0e", "#2ca02c"]},
         "legend": {"orient": "none", "legendX": 139, "legendY": 758, "title": null, "direction": "vertical",
           "labelExpr": "datum.value === 'D' ? 'Data' : datum.value === 'M' ? 'Mod − Rayleigh' : 'Rayleigh'",
           "labelFont": "Liberation Serif", "labelFontSize": 36, "labelColor": "black", "labelOffset": 42, "labelLimit": 600,
           "symbolSize": 5184, "symbolOffset": 22, "rowPadding": 16, "padding": 14,
           "strokeColor": "#cccccc", "fillColor": "white", "cornerRadius": 5,
           "encode": {"symbols": {"update": {
             "shape": {"signal": "datum.value === 'D' ? 'circle' : 'stroke'"},
             "size": {"signal": "datum.value === 'D' ? 36 : 5184"},
             "strokeDash": {"signal": "datum.value === 'R' ? [6, 3] : [1, 0]"},
             "strokeWidth": {"signal": "datum.value === 'D' ? 0 : 2"},
             "fill": {"signal": "datum.value === 'D' ? '#1f77b4' : 'transparent'"},
             "stroke": {"signal": "datum.value === 'D' ? '#1f77b4' : datum.value === 'R' ? '#2ca02c' : '#ff7f0e'"},
             "opacity": {"value": 1}
           }}}}}
     }},
    {"transform": [{"filter": "datum.s === 'D'"}],
     "mark": {"type": "point", "filled": false, "size": 38, "stroke": "#1a5a8c", "strokeWidth": 0.9, "opacity": 0.9, "clip": true},
     "encoding": {"x": {"field": "x", "type": "quantitative"}, "y": {"field": "y", "type": "quantitative"}}},
    {"transform": [{"filter": "datum.s === 'M'"}],
     "mark": {"type": "line", "strokeWidth": 2, "clip": true, "interpolate": "monotone"},
     "encoding": {"x": {"field": "x", "type": "quantitative"}, "y": {"field": "y", "type": "quantitative"},
       "color": {"field": "s", "type": "nominal"}}},
    {"transform": [{"filter": "datum.s === 'R'"}],
     "mark": {"type": "line", "strokeWidth": 2, "strokeDash": [5.5, 2.5], "clip": true, "interpolate": "monotone"},
     "encoding": {"x": {"field": "x", "type": "quantitative"}, "y": {"field": "y", "type": "quantitative"},
       "color": {"field": "s", "type": "nominal"}}},
    {"transform": [{"filter": "datum.s === 'L'"}],
     "mark": {"type": "text", "align": "right", "baseline": "alphabetic", "font": "Liberation Serif", "fontStyle": "italic", "fontSize": 35, "color": "black"},
     "encoding": {"x": {"datum": 0.712}, "y": {"datum": 11}, "text": {"field": "t"}}}
  ]
},
"config": {
  "view": {"stroke": "black", "strokeWidth": 1.2},
  "axis": {"grid": false, "domain": false, "ticks": true, "tickColor": "black", "tickSize": 5, "tickWidth": 1,
    "labelColor": "black", "labelFont": "DejaVu Sans", "labelFontSize": 23, "labelPadding": 4}
}
}
